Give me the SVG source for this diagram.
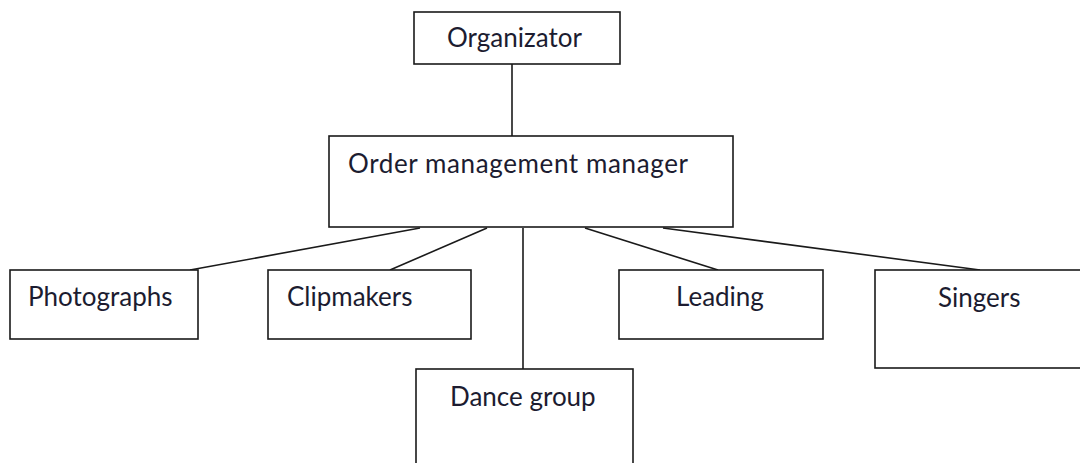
<svg xmlns="http://www.w3.org/2000/svg" width="1080" height="463" viewBox="0 0 1080 463">
  <style>
    .box { fill: #ffffff; stroke: #1a1a1a; stroke-width: 1.6; }
    .link { stroke: #1a1a1a; stroke-width: 1.6; fill: none; }
    .label { font-family: Lato, "Liberation Sans", sans-serif; font-size: 26px; fill: #1c1c30; }
  </style>
  <rect width="1080" height="463" fill="#ffffff"/>

  <!-- connectors -->
  <g id="connectors">
    <line class="link" x1="512" y1="64" x2="512" y2="136"/>
    <line class="link" x1="420" y1="228" x2="190" y2="270"/>
    <line class="link" x1="487" y1="228" x2="390" y2="270"/>
    <line class="link" x1="523" y1="228" x2="523" y2="369"/>
    <line class="link" x1="585" y1="228" x2="718" y2="270"/>
    <line class="link" x1="663" y1="228" x2="980" y2="270"/>
  </g>

  <g id="organizator">
    <rect class="box" x="414" y="12" width="206" height="52"/>
    <text class="label" x="447" y="47">Organizator</text>
  </g>

  <g id="order-management-manager">
    <rect class="box" x="329" y="136" width="404" height="91"/>
    <text class="label" x="348" y="173" textLength="340" lengthAdjust="spacing">Order management manager</text>
  </g>

  <g id="photographs">
    <rect class="box" x="10" y="270" width="188" height="69"/>
    <text class="label" x="28" y="306">Photographs</text>
  </g>

  <g id="clipmakers">
    <rect class="box" x="268" y="270" width="203" height="69"/>
    <text class="label" x="287" y="306">Clipmakers</text>
  </g>

  <g id="leading">
    <rect class="box" x="619" y="270" width="204" height="69"/>
    <text class="label" x="676" y="306">Leading</text>
  </g>

  <g id="singers">
    <rect class="box" x="875" y="270" width="215" height="98"/>
    <text class="label" x="938" y="307">Singers</text>
  </g>

  <g id="dance-group">
    <rect class="box" x="416" y="369" width="217" height="110"/>
    <text class="label" x="450" y="406">Dance group</text>
  </g>
</svg>
